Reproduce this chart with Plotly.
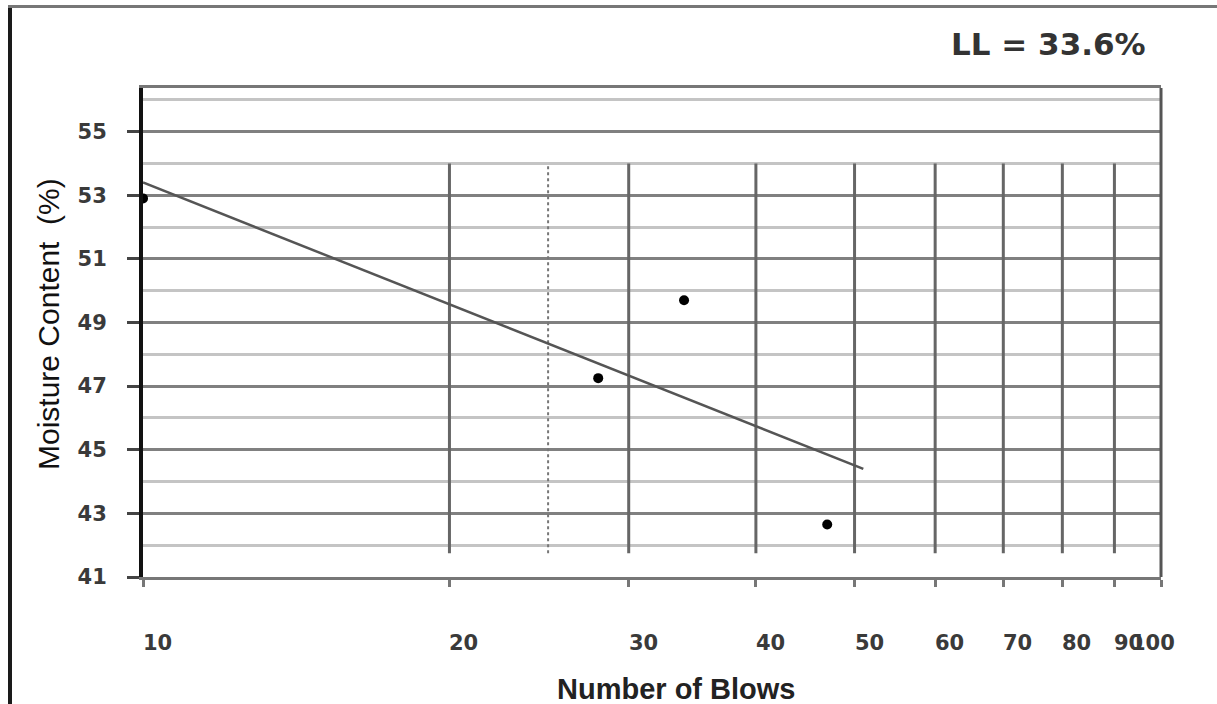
import numpy as np
import plotly.graph_objects as go

# ---- data ----
blows = [10, 28, 34, 47]
moisture = [52.9, 47.25, 49.7, 42.65]

trend_blows = [10, 51]
trend_moisture = [53.4, 44.4]

x_tick_values = [10, 20, 30, 40, 50, 60, 70, 80, 90, 100]
x_tick_labels = ["10", "20", "30", "40", "50", "60", "70", "80", "90", "100"]
y_major_ticks = [41, 43, 45, 47, 49, 51, 53, 55]
y_minor_ticks = [42, 44, 46, 48, 50, 52, 54, 56]
grid_blows = [20, 30, 40, 50, 60, 70, 80, 90]
grid_low, grid_high = 41.75, 54
ll_blows = 25

ll_text = "LL = 33.6%"
x_title = "Number of Blows"
y_title = "Moisture Content  (%)"

# ---- layout geometry (pixels) ----
W, H = 1217, 704
L, R, T, B = 143, 56, 88, 127
PW, PH = W - L - R, H - T - B


def px(x):
    return (x - L) / PW


def py(y):
    return (H - B - y) / PH


fig = go.Figure()

# vertical grid lines (built from the grid values)
vx, vy = [], []
for g in grid_blows:
    vx += [g, g, None]
    vy += [grid_low, grid_high, None]
fig.add_trace(go.Scatter(x=vx, y=vy, mode="lines",
                         line=dict(color="#666666", width=3),
                         hoverinfo="skip", showlegend=False))

# dotted line at 25 blows
fig.add_trace(go.Scatter(x=[ll_blows, ll_blows], y=[grid_low, grid_high], mode="lines",
                         line=dict(color="#777777", width=2, dash="dot"),
                         hoverinfo="skip", showlegend=False))

# trend line
fig.add_trace(go.Scatter(x=trend_blows, y=trend_moisture, mode="lines",
                         line=dict(color="#555555", width=2.5),
                         showlegend=False))

# data points
fig.add_trace(go.Scatter(x=blows, y=moisture, mode="markers",
                         marker=dict(color="black", size=10, symbol="circle"),
                         showlegend=False))

fig.update_layout(
    width=W, height=H,
    margin=dict(l=L, r=R, t=T, b=B, pad=0),
    paper_bgcolor="white", plot_bgcolor="white",
    showlegend=False,
    xaxis=dict(type="log", range=[1, 2], tickvals=x_tick_values,
               showticklabels=False, ticks="outside", ticklen=7, tickwidth=3,
               tickcolor="#777777", showgrid=False, zeroline=False,
               showline=True, linecolor="#777777", linewidth=3, mirror=True),
    yaxis=dict(range=[41, 56.37], tickvals=y_major_ticks,
               ticktext=[str(v) for v in y_major_ticks],
               ticks="outside", ticklen=12, tickwidth=3, tickcolor="#444444",
               tickfont=dict(family="DejaVu Sans", size=21, color="#3a3a3a", weight="bold"),
               ticklabelstandoff=16,
               showgrid=True, gridcolor="#808080", gridwidth=3, zeroline=False,
               minor=dict(tickvals=y_minor_ticks, showgrid=True,
                          gridcolor="#c4c4c4", gridwidth=3, ticks=""),
               showline=True, linecolor="#111111", linewidth=4),
)

annotations = []
# x tick labels
for v, t in zip(x_tick_values, x_tick_labels):
    last = v == max(x_tick_values)
    annotations.append(dict(x=np.log10(v), y=0, xref="x", yref="paper",
                            text=t, showarrow=False,
                            xanchor="right" if last else "left",
                            xshift=16 if last else -2, yshift=-66, yanchor="middle",
                            font=dict(family="DejaVu Sans", size=21, color="#3a3a3a",
                                      weight="bold")))
# axis titles and LL text
annotations.append(dict(x=px(676), y=py(689), xref="paper", yref="paper",
                        text=x_title, showarrow=False, xanchor="center", yanchor="middle",
                        font=dict(family="Liberation Sans", size=29, color="#222222",
                                  weight="bold")))
annotations.append(dict(x=px(48), y=py(324), xref="paper", yref="paper",
                        text=y_title, showarrow=False, textangle=-90,
                        xanchor="center", yanchor="middle",
                        font=dict(family="Liberation Sans", size=30, color="#111111")))
annotations.append(dict(x=px(1148), y=py(44), xref="paper", yref="paper",
                        text=ll_text, showarrow=False, xanchor="right", yanchor="middle",
                        font=dict(family="DejaVu Sans", size=31, color="#333333",
                                  weight="bold")))
fig.update_layout(annotations=annotations)

# outer frame and right border of the plot
shapes = [
    dict(type="line", xref="paper", yref="paper", x0=px(10), x1=px(10), y0=py(5), y1=py(704),
         line=dict(color="#1a1a1a", width=4)),
    dict(type="line", xref="paper", yref="paper", x0=px(8), x1=px(1217), y0=py(6.5), y1=py(6.5),
         line=dict(color="#777777", width=3)),
    dict(type="line", xref="paper", yref="paper", x0=1, x1=1, y0=0, y1=1,
         line=dict(color="#555555", width=3)),
]
fig.update_layout(shapes=shapes)

fig.write_html("out.html",
               config={"displayModeBar": False},
               post_script="document.body.style.margin='0';document.body.style.overflow='hidden';")
